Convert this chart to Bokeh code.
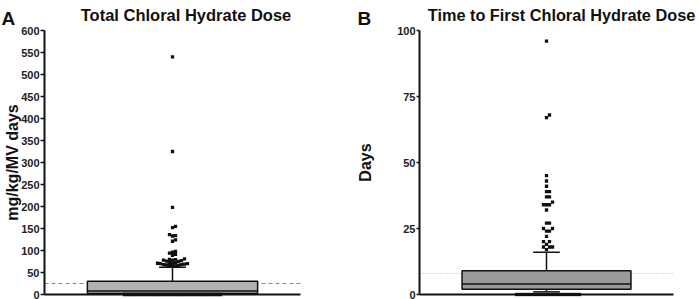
import numpy as np
from bokeh.plotting import figure
from bokeh.layouts import row
from bokeh.models import FixedTicker, Label, Range1d, LinearAxis
from bokeh.embed import file_html
from bokeh.resources import INLINE

# ---------------- data ----------------
# Panel A: Total chloral hydrate dose (mg/kg/MV days)
a_title = "Total Chloral Hydrate Dose"
a_ylabel = "mg/kg/MV days"
a_ticks = [0, 50, 100, 150, 200, 250, 300, 350, 400, 450, 500, 550, 600]
a_box = {"low": 0, "q1": 2, "median": 8, "q3": 30, "high": 62}
a_ref = 25
a_points = [540, 325, 198, 155, 152, 136, 134, 133, 124, 121,
            98, 96, 94, 91, 89, 81, 80, 79, 78, 78, 77, 76, 75, 73,
            72, 71, 71, 70, 70, 69, 68, 68, 67, 66, 66, 65, 64,
            0, 0, 0, 0, 0, 0, 0, 0, 0, 0, 0, 0, 0, 0, 0, 0, 0,
            0, 0, 0, 0, 0, 0, 0, 0, 0, 0, 0, 0, 0, 0, 0, 0]

# Panel B: Time to first chloral hydrate dose (days)
b_title = "Time to First Chloral Hydrate Dose"
b_ylabel = "Days"
b_ticks = [0, 25, 50, 75, 100]
b_box = {"low": 1, "q1": 2, "median": 4, "q3": 9, "high": 16}
b_ref = 8
b_points = [96, 68, 67, 45, 43, 41, 39, 39, 37, 37, 35, 34, 34, 34, 32,
            27, 27, 25, 25, 24, 24, 22, 20, 20, 19, 18, 18, 18, 17,
            0, 0, 0, 0, 0, 0, 0, 0, 0, 0, 0, 0, 0, 0, 0, 0, 0,
            0, 0, 0, 0, 0]

FONT = "Liberation Sans"
INK = "#111111"


def swarm(values, px_per_y, px_per_x, d, center=0.5):
    vals = np.asarray(values, dtype=float)
    order = np.argsort(vals, kind="stable")
    placed = []
    xs = np.zeros(len(vals))
    cands = [0.0]
    for j in range(1, 80):
        cands += [j * d, -j * d]
    for i in order:
        yp = vals[i] * px_per_y
        chosen = 0.0
        for c in cands:
            if all(abs(c - px) >= d - 1e-9 or abs(yp - py) >= d - 1e-9 for px, py in placed):
                chosen = c
                break
        placed.append((chosen, yp))
        xs[i] = center + chosen / px_per_x
    return xs


def panel(title, ylabel, ticks, box, ref, points, width, left, right, top, bottom,
          fill, ref_dash, ref_color, letter, letter_px, title_px, title_size,
          ylabel_px, tick_len):
    height = 299
    fw = width - left - right
    fh = height - top - bottom
    ymax = ticks[-1]
    p = figure(width=width, height=height, output_backend="svg", toolbar_location=None,
               x_range=Range1d(-left / fw, 1 + right / fw),
               y_range=Range1d(-bottom / fh * ymax, ymax + top / fh * ymax),
               min_border=0, x_axis_location=None, y_axis_location=None)
    p.outline_line_color = None
    p.xgrid.visible = False
    p.ygrid.visible = False
    p.background_fill_color = "white"
    p.border_fill_color = "white"

    # canvas pixel -> data helpers (for text placement)
    def dx(px):
        return (px - left) / fw

    def dy(py):
        return (height - bottom - py) / fh * ymax

    # y axis drawn at the left edge of the plotting region
    ya = LinearAxis(fixed_location=0, bounds=(0, ymax), ticker=FixedTicker(ticks=ticks))
    ya.major_label_text_font = FONT
    ya.major_label_text_font_size = "11px"
    ya.major_label_text_font_style = "bold"
    ya.major_label_text_color = "#222222"
    ya.major_label_standoff = 1
    ya.major_tick_out = tick_len
    ya.major_tick_in = 0
    ya.minor_tick_out = 0
    ya.minor_tick_in = 0
    ya.major_tick_line_width = 1.5
    ya.axis_line_width = 2
    ya.axis_line_color = INK
    ya.major_tick_line_color = INK
    p.add_layout(ya, "left")

    # x axis: baseline only
    xa = LinearAxis(fixed_location=0, bounds=(0, 1), ticker=FixedTicker(ticks=[]))
    xa.major_label_text_font_size = "0px"
    xa.major_label_standoff = 0
    xa.major_tick_out = 0
    xa.major_tick_in = 0
    xa.minor_tick_out = 0
    xa.minor_tick_in = 0
    xa.axis_line_width = 2
    xa.axis_line_color = INK
    p.add_layout(xa, "below")

    # reference line across the plotting region
    p.segment(x0=[0], y0=[ref], x1=[1], y1=[ref], line_color=ref_color,
              line_dash=ref_dash, line_width=1)

    c = 0.5
    bw = 0.665
    cap = 0.105
    # whiskers
    p.segment(x0=[c, c], y0=[box["q3"], box["low"]], x1=[c, c], y1=[box["high"], box["q1"]],
              line_color=INK, line_width=1.5)
    p.segment(x0=[c - cap / 2, c - cap / 2], y0=[box["high"], box["low"]],
              x1=[c + cap / 2, c + cap / 2], y1=[box["high"], box["low"]],
              line_color=INK, line_width=1.5)
    # box
    p.vbar(x=[c], width=bw, bottom=[box["q1"]], top=[box["q3"]], fill_color=fill,
           line_color=INK, line_width=1.5)
    p.segment(x0=[c - bw / 2], y0=[box["median"]], x1=[c + bw / 2], y1=[box["median"]],
              line_color=INK, line_width=1.5)

    # points (beeswarm)
    xs = swarm(points, fh / ymax, fw, 3.0, c)
    p.scatter(x=xs, y=points, marker="square", size=3.3, fill_color=INK,
              line_color=None)

    # texts
    p.add_layout(Label(x=dx(letter_px), y=dy(18), text=letter, text_font=FONT,
                       text_font_size="19px", text_font_style="bold",
                       text_color=INK, text_baseline="alphabetic", text_align="left"))
    p.add_layout(Label(x=dx(title_px), y=dy(14.5), text=title, text_font=FONT,
                       text_font_size=title_size, text_font_style="bold",
                       text_color=INK, text_baseline="alphabetic", text_align="center"))
    p.add_layout(Label(x=dx(ylabel_px), y=dy(top + fh / 2), text=ylabel, text_font=FONT,
                       text_font_size="16px", text_font_style="bold",
                       text_color=INK, text_baseline="middle", text_align="center",
                       angle=np.pi / 2))
    return p


pA = panel(a_title, a_ylabel, a_ticks, a_box, a_ref, a_points,
           width=350, left=44, right=50, top=30, bottom=5,
           fill="#b2b2b2", ref_dash="4 3", ref_color="#8c8c8c",
           letter="A", letter_px=1, title_px=185.5, title_size="16.5px",
           ylabel_px=12, tick_len=4)
pB = panel(b_title, b_ylabel, b_ticks, b_box, b_ref, b_points,
           width=349, left=69, right=26, top=30, bottom=5,
           fill="#9a9a9a", ref_dash="1 2", ref_color="#b0b0b0",
           letter="B", letter_px=7, title_px=211, title_size="16.3px",
           ylabel_px=15, tick_len=3)

layout = row(pA, pB)
open("out.html", "w").write(file_html(layout, INLINE))
